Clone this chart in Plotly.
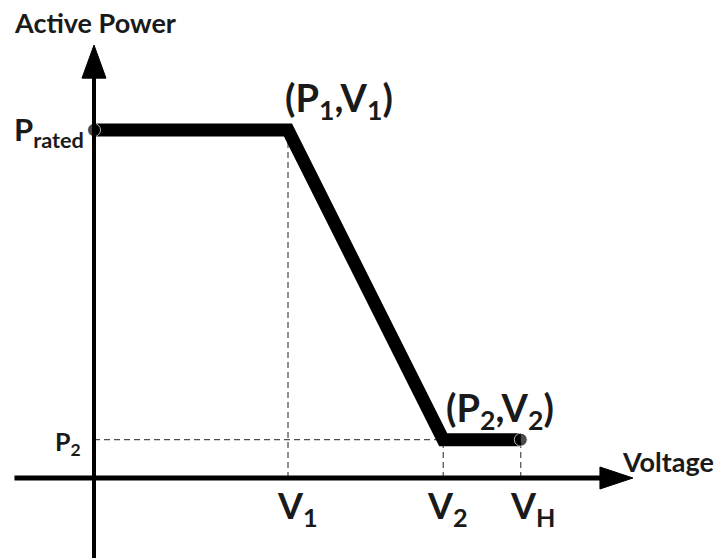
import plotly.graph_objects as go

# Data (arbitrary units: V1 = 1, Prated = 1)
curve_v = [0.0, 1.0, 1.8, 2.2]
curve_p = [1.0, 1.0, 0.11, 0.11]
V1, V2, VH = 1.0, 1.8, 2.2
P_RATED, P2 = 1.0, 0.11

XR = [-0.4433, 3.2887]
YR = [-0.2529, 1.3506]
FONT = "Lato"

fig = go.Figure()

# dashed guide lines
guides = [
    ([V1, V1], [0, P_RATED]),
    ([0, V2], [P2, P2]),
    ([V2, V2], [0, P2]),
    ([VH, VH], [0, P2]),
]
for gx, gy in guides:
    fig.add_trace(go.Scatter(x=gx, y=gy, mode="lines",
                             line=dict(color="#222", width=1, dash="6px,4px"),
                             hoverinfo="skip", showlegend=False))

# axes lines
fig.add_shape(type="line", x0=-0.41, x1=2.62, y0=0, y1=0,
              line=dict(color="black", width=5))
fig.add_shape(type="line", x0=0, x1=0, y0=-0.23, y1=1.16,
              line=dict(color="black", width=4))
# arrow heads
fig.add_shape(type="path", path="M -0.0619,1.149 L 0.0619,1.149 L 0,1.244 Z",
              fillcolor="black", line=dict(color="black", width=1))
fig.add_shape(type="path", path="M 2.608,-0.0316 L 2.608,0.0316 L 2.778,0 Z",
              fillcolor="black", line=dict(color="black", width=1))

# main curve
fig.add_trace(go.Scatter(x=curve_v, y=curve_p, mode="lines+markers",
                         line=dict(color="black", width=13),
                         marker=dict(color="black", size=[13, 0, 0, 13]),
                         hoverinfo="skip", showlegend=False))

def txt(x, y, s, size, xanchor="center", yanchor="middle"):
    fig.add_annotation(x=x, y=y, text=s, showarrow=False, xanchor=xanchor,
                       yanchor=yanchor, font=dict(family=FONT, size=size, color="#1a1a1a", weight="bold"))

txt(-0.4227, 1.310, "Active Power", 27, xanchor="left")
txt(2.711, 0.046, "Voltage", 27, xanchor="left")
txt(-0.4227, 0.995, "P<sub>rated</sub>", 31, xanchor="left")
txt(-0.211, 0.100, "P<sub>2</sub>", 25, xanchor="left")
txt(1.263, 1.086, "(P<sub>1</sub>,V<sub>1</sub>)", 38)
txt(2.093, 0.195, "(P<sub>2</sub>,V<sub>2</sub>)", 38)
txt(0.933, -0.085, "V<sub>1</sub>", 36, xanchor="left")
txt(1.706, -0.085, "V<sub>2</sub>", 36, xanchor="left")
txt(2.134, -0.085, "V<sub>H</sub>", 36, xanchor="left")

fig.update_layout(width=724, height=558, margin=dict(l=0, r=0, t=0, b=0),
                  paper_bgcolor="white", plot_bgcolor="white",
                  xaxis=dict(range=XR, visible=False, fixedrange=True),
                  yaxis=dict(range=YR, visible=False, fixedrange=True))

fig.write_html("out.html")
